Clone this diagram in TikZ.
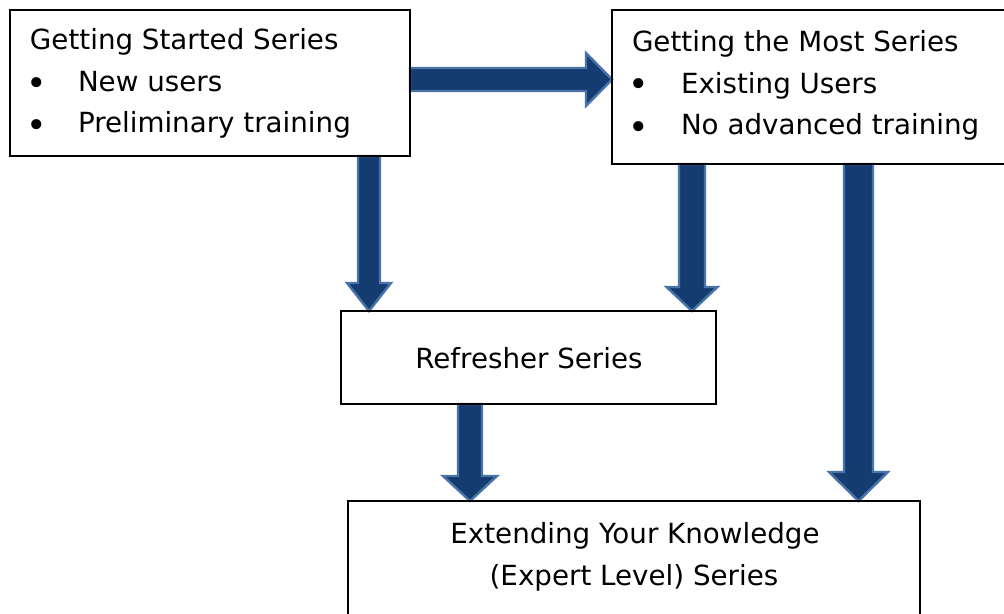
\documentclass[tikz,border=0pt]{standalone}
\usepackage{fontspec}
\setmainfont{DejaVu Sans}
\usetikzlibrary{calc}
\definecolor{arrowfill}{RGB}{21,60,112}
\definecolor{arrowedge}{RGB}{72,116,170}
\tikzset{
  box/.style={draw=black, line width=1.5pt, rectangle, inner sep=0pt, outer sep=0pt, anchor=north west},
  txt/.style={inner sep=0pt, outer sep=0pt, anchor=base west, font=\fontsize{20.8pt}{25pt}\selectfont},
  ctxt/.style={inner sep=0pt, outer sep=0pt, anchor=base, font=\fontsize{20.8pt}{25pt}\selectfont},
  bul/.style={inner sep=0pt, outer sep=0pt, anchor=base, font=\fontsize{26pt}{30pt}\selectfont},
  blk/.style={fill=arrowfill, draw=arrowedge, line width=1.8pt, line join=miter}
}
\newcommand\vblock[5]{%
  \draw[blk] ($#1+(-#3,0)$) -- ($#1+(#3,0)$) -- ($#2+(#3,-#5)$) -- ($#2+(#4,-#5)$) -- #2
    -- ($#2+(-#4,-#5)$) -- ($#2+(-#3,-#5)$) -- cycle;}
\newcommand\hblock[5]{%
  \draw[blk] ($#1+(0,-#3)$) -- ($#2+(-#5,-#3)$) -- ($#2+(-#5,-#4)$) -- #2
    -- ($#2+(-#5,#4)$) -- ($#2+(-#5,#3)$) -- ($#1+(0,#3)$) -- cycle;}
\begin{document}
\begin{tikzpicture}[x=0.75pt, y=-0.75pt]
\clip (0,0) rectangle (1004,614);
\fill[white] (0,0) rectangle (1004,614);
% boxes
\node[box, minimum width=300pt, minimum height=109.5pt] (b1) at (10,10) {};
\node[box, minimum width=306pt, minimum height=115.5pt] (b2) at (612,10) {};
\node[box, minimum width=281.25pt, minimum height=69.75pt] (b3) at (341,311) {};
\node[box, minimum width=429pt, minimum height=96.75pt] (b4) at (348,501) {};
% arrow end points
\coordinate (hs) at (b1.east |- 0,79.5);
\coordinate (he) at (b2.west |- 0,79.5);
\coordinate (a1s) at (b1.south -| 369,0);
\coordinate (a1e) at (b3.north -| 369,0);
\coordinate (a2s) at (b2.south -| 692,0);
\coordinate (a2e) at (b3.north -| 692,0);
\coordinate (a3s) at (b3.south -| 470,0);
\coordinate (a3e) at (b4.north -| 470,0);
\coordinate (a4s) at (b2.south -| 858.5,0);
\coordinate (a4e) at (b4.north -| 858.5,0);
% block arrows
\hblock{(hs)}{(he)}{11.5}{26.5}{26}
\vblock{(a1s)}{(a1e)}{11}{22}{28}
\vblock{(a2s)}{(a2e)}{13}{25.5}{24}
\vblock{(a3s)}{(a3e)}{12}{27}{25}
\vblock{(a4s)}{(a4e)}{14.5}{29.5}{29}
% redraw boxes on top
\draw[line width=1.5pt] (b1.north west) rectangle (b1.south east);
\draw[line width=1.5pt] (b2.north west) rectangle (b2.south east);
\draw[line width=1.5pt] (b3.north west) rectangle (b3.south east);
\draw[line width=1.5pt] (b4.north west) rectangle (b4.south east);
% texts box 1
\node[txt] (t1a) at (30,49) {Getting Started Series};
\node[bul] (t1b) at (37,95.5) {•};
\node[txt] (t1c) at (78,91) {New users};
\node[bul] (t1d) at (37,137) {•};
\node[txt] (t1e) at (78,132) {Preliminary training};
% texts box 2
\node[txt] (t2a) at (632,51) {Getting the Most Series};
\node[bul] (t2b) at (639,96) {•};
\node[txt] (t2c) at (681,93) {Existing Users};
\node[bul] (t2d) at (639,139) {•};
\node[txt] (t2e) at (681,134) {No advanced training};
% box 3 and 4 texts
\node[ctxt] (t3) at (529,368) {Refresher Series};
\node[ctxt] (t4a) at (635,543) {Extending Your Knowledge};
\node[ctxt] (t4b) at (634,585) {(Expert Level) Series};
\end{tikzpicture}
\end{document}
